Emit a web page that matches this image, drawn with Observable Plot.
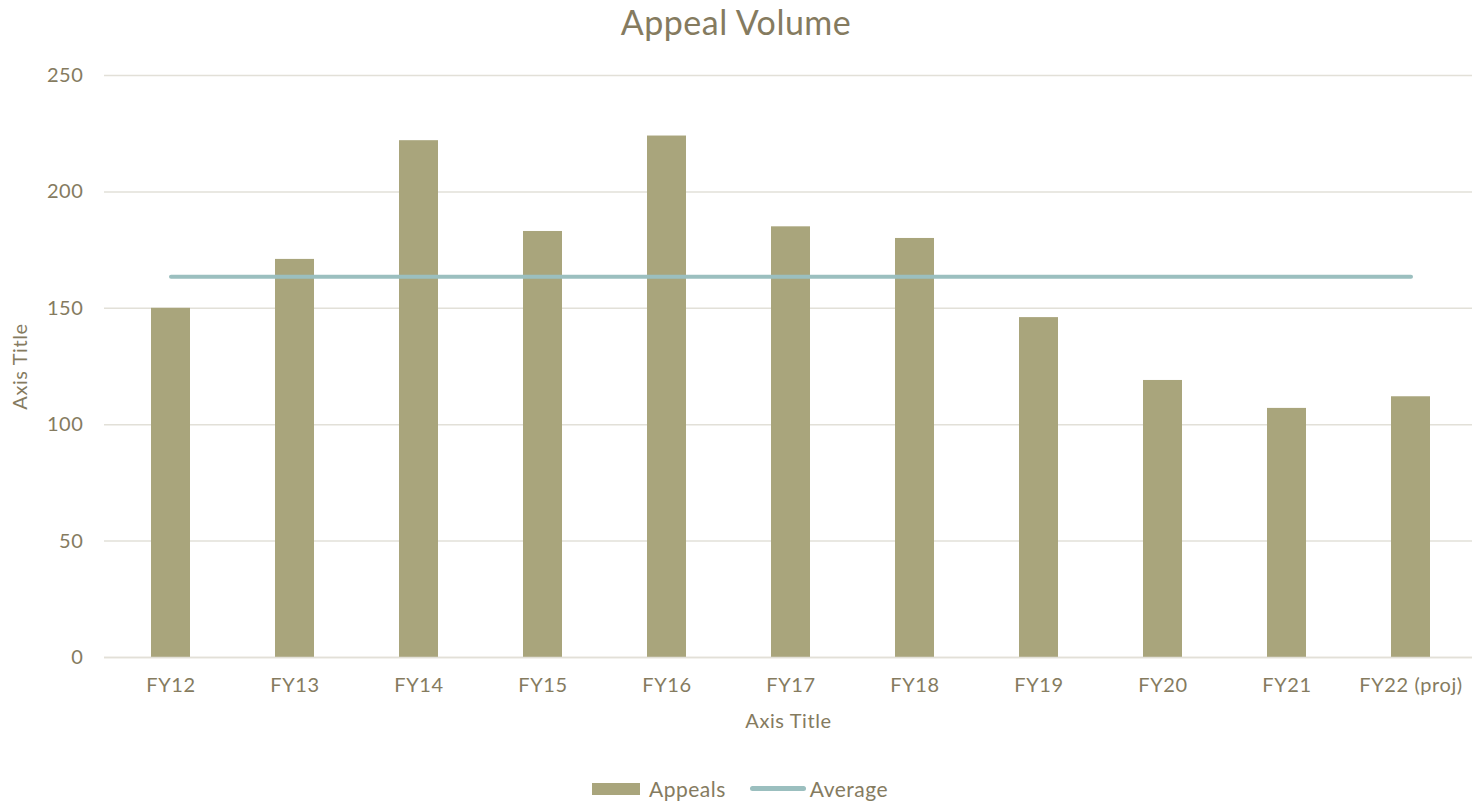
<!DOCTYPE html>
<html>
<head>
<meta charset="utf-8">
<script src="https://cdn.jsdelivr.net/npm/d3@7"></script>
<script src="https://cdn.jsdelivr.net/npm/@observablehq/plot@0.6"></script>
<style>
  html, body { margin: 0; padding: 0; background: #fff; }
  body { width: 1472px; height: 801px; position: relative; overflow: hidden; font-family: Lato, "Open Sans", sans-serif; color: #857B5F; }
  #title { position: absolute; top: 0; left: 0; width: 1472px; text-align: center; font-size: 34px; line-height: 44px; letter-spacing: 0.5px; color: #857B5F; }
  #chart { position: absolute; top: 0; left: 0; }
  #chart svg text { letter-spacing: 0.6px; }
  #legend { position: absolute; top: 776px; left: 4px; width: 1472px; display: flex; justify-content: center; align-items: center; font-size: 21px; letter-spacing: 0.5px; color: #857B5F; }
  .sw-bar { display: inline-block; width: 48px; height: 12px; background: #A9A57C; margin-right: 9px; }
  .sw-line { display: inline-block; width: 56px; height: 5px; border-radius: 3px; background: #9BBFBF; margin-left: 24px; margin-right: 4px; }
</style>
</head>
<body>
<div id="chart"></div>
<div id="title">Appeal Volume</div>
<div id="legend"><span class="sw-bar"></span><span>Appeals</span><span class="sw-line"></span><span>Average</span></div>
<script>
const categories = ["FY12", "FY13", "FY14", "FY15", "FY16", "FY17", "FY18", "FY19", "FY20", "FY21", "FY22 (proj)"];
const appeals = [150, 171, 222, 183, 224, 185, 180, 146, 119, 107, 112];
const yTicks = [0, 50, 100, 150, 200, 250];

const avg = d3.mean(appeals);
const data = categories.map((c, i) => ({category: c, appeals: appeals[i], average: avg}));

const textColor = "#857B5F";
const chart = Plot.plot({
  width: 1472,
  height: 760,
  marginTop: 75,
  marginBottom: 103,
  marginLeft: 104,
  marginRight: 0,
  style: {fontFamily: "Lato, 'Open Sans', sans-serif", fontSize: "20px", color: textColor, background: "transparent"},
  x: {domain: categories, range: [104, 1476], paddingInner: 0.686, paddingOuter: 0.343, label: null},
  y: {domain: [0, 250], ticks: yTicks, label: null},
  marks: [
    Plot.gridY(yTicks, {stroke: "#E2E0D8", strokeOpacity: 1, strokeWidth: 1.5}),
    Plot.axisY({ticks: yTicks, tickSize: 0, tickPadding: 21, fill: textColor, label: "Axis Title", labelAnchor: "center", labelArrow: "none", labelOffset: 92, fontSize: 20}),
    Plot.axisX({tickSize: 0, tickPadding: 20, fill: textColor, label: "Axis Title", labelAnchor: "center", labelArrow: "none", labelOffset: 70, fontSize: 20}),
    Plot.barY(data, {x: "category", y: "appeals", fill: "#A9A57C"}),
    Plot.ruleY([0], {stroke: "#E2E0D8", strokeWidth: 1.5}),
    Plot.lineY(data, {x: "category", y: "average", stroke: "#9BBFBF", strokeWidth: 4, strokeLinecap: "round"})
  ]
});
document.getElementById("chart").appendChild(chart);
</script>
</body>
</html>
